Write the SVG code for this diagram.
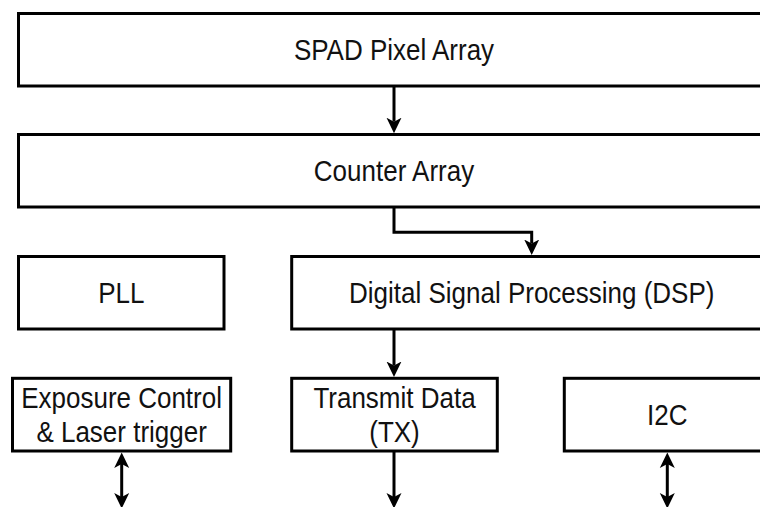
<svg xmlns="http://www.w3.org/2000/svg" width="760" height="507" viewBox="0 0 760 507">
  <style>
    .box { fill: #ffffff; stroke: #000000; stroke-width: 3; }
    .lbl { font-family: "Liberation Sans", Arial, Helvetica, sans-serif; font-size: 26px; fill: #111111; text-anchor: middle; dominant-baseline: central; }
    .wire { fill: none; stroke: #000000; stroke-width: 3; }
  </style>
  <defs>
    <marker id="head" markerUnits="userSpaceOnUse" markerWidth="18" markerHeight="18" viewBox="0 0 18 18" refX="4" refY="9" orient="auto-start-reverse">
      <path d="M0,1.5 L15.5,9 L0,16.5 L4,9 z" fill="#000000"/>
    </marker>
  </defs>
  <rect width="760" height="507" fill="#ffffff"/>

  <g id="spad-array">
    <rect class="box" x="18.5" y="13.5" width="752" height="72.5"/>
    <text class="lbl" transform="translate(394,50) scale(1,1.14)">SPAD Pixel Array</text>
  </g>

  <g id="counter-array">
    <rect class="box" x="18.5" y="134.5" width="752" height="72.5"/>
    <text class="lbl" transform="translate(394,171) scale(1,1.14)">Counter Array</text>
  </g>

  <g id="pll">
    <rect class="box" x="18.5" y="256.5" width="205.5" height="72.5"/>
    <text class="lbl" transform="translate(121.3,293) scale(1,1.14)">PLL</text>
  </g>

  <g id="dsp">
    <rect class="box" x="291.7" y="256.5" width="480" height="72.5"/>
    <text class="lbl" transform="translate(531.7,293) scale(1,1.14)">Digital Signal Processing (DSP)</text>
  </g>

  <g id="exposure-control">
    <rect class="box" x="12.5" y="378.3" width="218.2" height="72.7"/>
    <text class="lbl" transform="translate(121.6,398) scale(1,1.14)">Exposure Control</text>
    <text class="lbl" transform="translate(121.6,432) scale(1,1.14)">&amp; Laser trigger</text>
  </g>

  <g id="transmit-data">
    <rect class="box" x="291.7" y="378.3" width="205.6" height="72.7"/>
    <text class="lbl" transform="translate(394.5,398) scale(1,1.14)">Transmit Data</text>
    <text class="lbl" transform="translate(394.5,432) scale(1,1.14)">(TX)</text>
  </g>

  <g id="i2c">
    <rect class="box" x="564.3" y="378.3" width="206" height="72.7"/>
    <text class="lbl" transform="translate(667.3,414.6) scale(1,1.14)">I2C</text>
  </g>

  <g id="connectors">
    <path class="wire" d="M394,86 V121.7" marker-end="url(#head)"/>
    <path class="wire" d="M394,207 V232.3 H531.7 V243.5" marker-end="url(#head)"/>
    <path class="wire" d="M394,329 V365.5" marker-end="url(#head)"/>
    <path class="wire" d="M394,451 V497" marker-end="url(#head)"/>
    <path class="wire" d="M121.7,464 V497" marker-start="url(#head)" marker-end="url(#head)"/>
    <path class="wire" d="M667.3,464 V497" marker-start="url(#head)" marker-end="url(#head)"/>
  </g>
</svg>
